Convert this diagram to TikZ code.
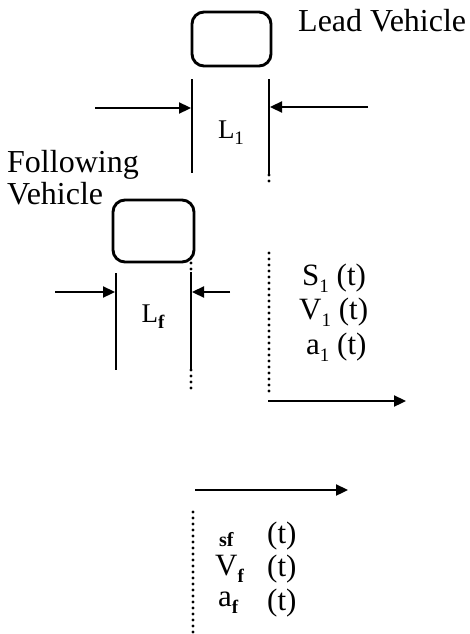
\documentclass[tikz,border=0pt]{standalone}
\usepackage{fontspec}
\setmainfont{Liberation Serif}
\usetikzlibrary{arrows.meta}
\newcommand\subsc[1]{\raisebox{-0.22em}{\fontsize{19}{19}\selectfont #1}}
\begin{document}
\begin{tikzpicture}[x=1pt,y=-1pt,
  dimline/.style={line width=2.9pt},
  dots/.style={line width=3.2pt, line cap=round, dash pattern=on 0pt off 6pt},
  dimarrow/.style={line width=2.3pt, -{Triangle[length=12pt,width=11pt]}},
  car/.style={draw, line width=2.9pt, rounded corners=12pt, inner sep=0pt, outer sep=0pt},
  lbl/.style={font=\fontsize{31}{31}\selectfont, inner sep=0pt, anchor=west},
  biglbl/.style={font=\fontsize{32}{32}\selectfont, inner sep=0pt, anchor=west},
  dimlbl/.style={font=\fontsize{27}{27}\selectfont, inner sep=0pt}]
\useasboundingbox (0,0) rectangle (470,634);
% vehicles
\node[car, minimum width=79pt, minimum height=54pt] (lead) at (231.5,39) {};
\node[car, minimum width=81pt, minimum height=62pt] (foll) at (153.5,231) {};
\node[biglbl] (leadtxt) at (298,21) {Lead Vehicle};
\node[biglbl] (folltxt1) at (7,165) {Following};
\node[biglbl] (folltxt2) at (7,194) {Vehicle};
% lead vehicle dimension
\coordinate (l1top) at (192,79);
\coordinate (l1bot) at (192,173);
\coordinate (r1top) at (269,79);
\coordinate (r1bot) at (269,175);
\coordinate (r1dot) at (269,181);
\coordinate (a1s) at (95,108);
\coordinate (a1e) at (191,108);
\coordinate (b1s) at (368,107);
\coordinate (b1e) at (270,107);
\draw[dimline] (l1top) -- (l1bot);
\draw[dimline] (r1top) -- (r1bot);
\draw[dots] (r1bot) -- (r1dot);
\draw[dimarrow] (a1s) -- (a1e);
\draw[dimarrow] (b1s) -- (b1e);
\node[dimlbl] (L1) at (231,133) {L\subsc{1}};
% following vehicle dimension
\coordinate (l2top) at (116,273);
\coordinate (l2bot) at (116,370);
\coordinate (r2dt) at (191,263);
\coordinate (r2top) at (191,272);
\coordinate (r2bot) at (191,370);
\coordinate (r2dot) at (191,394);
\coordinate (a2s) at (55,292);
\coordinate (a2e) at (115,292);
\coordinate (b2s) at (230,292);
\coordinate (b2e) at (192,292);
\draw[dimline] (l2top) -- (l2bot);
\draw[dimline] (r2top) -- (r2bot);
\draw[dots] (r2dt) -- (r2top);
\draw[dots] (r2bot) -- (r2dot);
\draw[dimarrow] (a2s) -- (a2e);
\draw[dimarrow] (b2s) -- (b2e);
\node[dimlbl] (Lf) at (153,317) {L\subsc{\bfseries f}};
% lead state
\coordinate (d1top) at (269,253);
\coordinate (d1bot) at (269,394);
\draw[dots] (d1top) -- (d1bot);
\node[lbl] (S1) at (302,278) {S\subsc{1} (t)};
\node[lbl] (V1) at (299,312) {V\subsc{1} (t)};
\node[lbl] (A1) at (306,347) {a\subsc{1} (t)};
\coordinate (m1s) at (268,401);
\coordinate (m1e) at (406,401);
\draw[dimarrow] (m1s) -- (m1e);
% following state
\coordinate (m2s) at (195,490);
\coordinate (m2e) at (348,490);
\draw[dimarrow] (m2s) -- (m2e);
\coordinate (d2top) at (193,512);
\coordinate (d2bot) at (193,633);
\draw[dots] (d2top) -- (d2bot);
\node[lbl, font=\fontsize{20}{20}\selectfont\bfseries] (Sf) at (219,540) {sf};
\node[lbl] (Sft) at (267,536) {(t)};
\node[lbl] (Vf) at (215,569) {V\subsc{\bfseries f}};
\node[lbl] (Vft) at (267,569) {(t)};
\node[lbl] (Af) at (218,603) {a\subsc{\bfseries f}};
\node[lbl] (Aft) at (267,603) {(t)};
\end{tikzpicture}
\end{document}
